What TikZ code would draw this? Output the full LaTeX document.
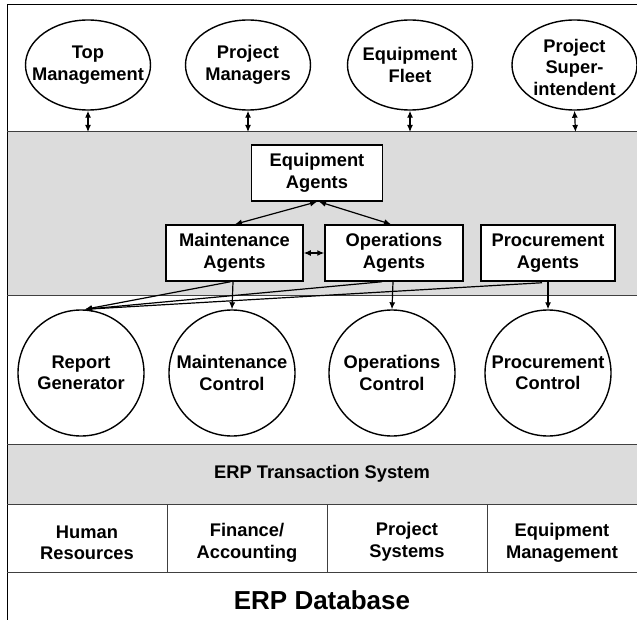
\documentclass[tikz,border=0pt]{standalone}
\usepackage{fontspec}
\setmainfont{Liberation Sans}
\usetikzlibrary{shapes.geometric,arrows.meta,calc}

\tikzset{
  band/.style={fill=bandgray, draw=none},
  sep/.style={draw=black!75, line width=1pt},
  frame/.style={draw=black, line width=1pt},
  ell/.style={ellipse, draw, line width=1.4pt, inner sep=0pt,
              minimum width=125pt, minimum height=90pt},
  circ/.style={ellipse, draw, line width=1.4pt, inner sep=0pt,
               minimum width=126pt, minimum height=126pt},
  agent/.style={rectangle, draw, line width=1.5pt, fill=white,
                inner sep=0pt, align=center, font=\lbl},
  txt/.style={align=center, font=\lbl, inner sep=0pt},
  link/.style={line width=1.2pt},
  tip/.style={-{Latex[length=7pt,width=6pt]}},
  tips/.style={{Latex[length=7pt,width=6pt]}-{Latex[length=7pt,width=6pt]}},
}
\definecolor{bandgray}{RGB}{220,220,220}
\newcommand{\lbl}{\bfseries\fontsize{18.3}{21.5}\selectfont}

\begin{document}
\begin{tikzpicture}[x=1pt, y=-1pt]
  \useasboundingbox (0,0) rectangle (637,620);

  % shaded layers
  \fill[band] (7,132) rectangle (637,296);
  \fill[band] (7,444) rectangle (637,504);

  % layer boundaries
  \draw[frame] (7,5) -- (637,5);
  \draw[frame] (7,5) -- (7,620);
  \foreach \yy in {132,296,444,504,572}
    \draw[sep] (7,\yy) -- (637,\yy);
  \foreach \xx in {167,327,487}
    \draw[sep] (\xx,504) -- (\xx,572);

  % users
  \node[ell] (tm) at (88,65) {};
  \node[txt] at (tm) {Top\\Management};
  \node[ell] (pm) at (248,65) {};
  \node[txt] at (pm) {Project\\Managers};
  \node[ell] (ef) at (410,65) {};
  \node[txt] at (ef) {Equipment\\Fleet};
  \node[ell] (ps) at (574.5,65) {};
  \node[txt] at ($(ps)+(0,2)$) {Project\\Super-\\intendent};

  \coordinate (tmb) at (88,132);
  \coordinate (pmb) at (248,132);
  \coordinate (efb) at (410,132);
  \coordinate (psb) at (575.5,132);
  \draw[link,tips] (tm.south) -- (tmb);
  \draw[link,tips] (pm.south) -- (pmb);
  \draw[link,tips] (ef.south) -- (efb);
  \draw[link,tips] (ps.south) -- (psb);

  % agents
  \node[agent, minimum width=131pt, minimum height=56pt] (ea) at (317,173) {Equipment\\Agents};
  \node[agent, minimum width=137pt, minimum height=56pt] (ma) at (234.5,253) {Maintenance\\Agents};
  \node[agent, minimum width=138pt, minimum height=56pt] (oa) at (394,253) {Operations\\Agents};
  \node[agent, minimum width=134pt, minimum height=56pt] (pa) at (548,253) {Procurement\\Agents};

  \draw[link,tips] (ea.south) -- ($(ma.north)+(0.5,0)$);
  \draw[link,tips] ($(ea.south)+(2,0)$) -- ($(oa.north)+(-3,0)$);
  \draw[link,tips] (ma.east) -- (oa.west);

  % control modules
  \node[circ] (rg) at (81,373) {};
  \node[txt] at (rg) {Report\\Generator};
  \node[circ] (mc) at (232,373) {};
  \node[txt] at (mc) {Maintenance\\Control};
  \node[circ] (oc) at (392,373) {};
  \node[txt] at (oc) {Operations\\Control};
  \node[circ] (pc) at (548,373) {};
  \node[txt] at (pc) {Procurement\\Control};

  \draw[link,tip] ($(ma.south)+(-1.5,0)$) -- (mc.north);
  \draw[link,tip] ($(oa.south)+(-1,0)$) -- (oc.north);
  \draw[link,tip] (pa.south) -- (pc.north);
  \draw[link,tip] ($(ma.south)+(-4,0)$) -- ($(rg.north)+(4,0)$);
  \draw[link,tip] ($(oa.south)+(-12,0)$) -- ($(rg.north)+(4,0)$);
  \draw[link,tip] ($(pa.south)+(-6,1)$) -- ($(rg.north)+(4,0)$);

  % ERP layers
  \node[txt] (erp) at (322,474) {ERP Transaction System};
  \node[txt] (hr) at (87,543) {Human\\Resources};
  \node[txt] (fa) at (247,543) {Finance/\\Accounting};
  \node[txt] (sy) at (407,542) {Project\\Systems};
  \node[txt] (em) at (562,543) {Equipment\\Management};
  \node[txt, font=\bfseries\fontsize{26}{30}\selectfont] (db) at (322,600) {ERP Database};
\end{tikzpicture}
\end{document}
